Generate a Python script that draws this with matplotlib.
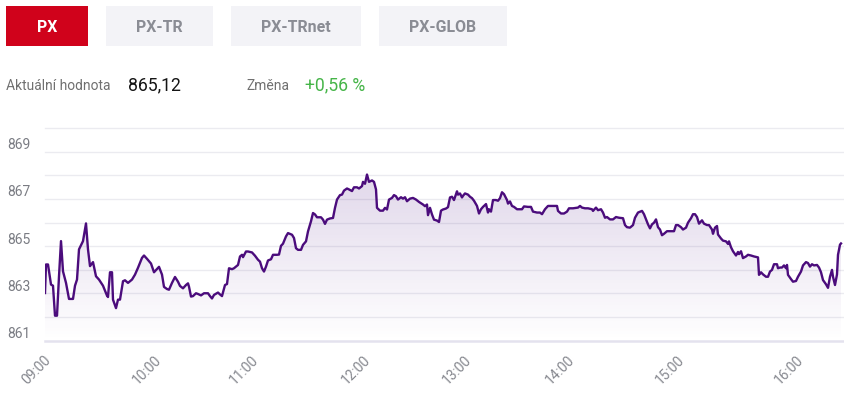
import numpy as np
import matplotlib
matplotlib.use('Agg')
import matplotlib.pyplot as plt
import matplotlib.transforms as mtransforms
from matplotlib.patches import Rectangle, Polygon

plt.rcParams['font.family'] = ['Roboto', 'DejaVu Sans']

# --- data -------------------------------------------------------------
tabs = ['PX', 'PX-TR', 'PX-TRnet', 'PX-GLOB']
active_tab = 'PX'
current_value = 865.12
change_pct = 0.56

hour_labels = ['09:00', '10:00', '11:00', '12:00', '13:00', '14:00', '15:00', '16:00']
hour_pos = [0, 110, 207, 319, 420, 523, 633, 752]
y_labels = [861, 863, 865, 867, 869]

# ordinal position of each quote on the intraday axis
quote_pos = [
    0, 1, 3, 6, 8, 10, 12, 14, 16, 18, 21, 24, 28, 30, 32, 34, 38, 41, 43, 45,
    48, 51, 54, 58, 62, 63, 65, 67, 68, 71, 73, 75, 78, 80, 83, 87, 90, 93, 97, 99,
    102, 106, 109, 112, 114, 117, 119, 122, 124, 127, 130,
    133, 135, 138, 141, 143, 144, 146, 148, 151, 153, 156, 159, 163, 165, 167, 169,
    173, 175, 177, 180, 182, 184, 187, 189, 193, 195, 197, 198, 201, 203, 207, 210,
    213, 215, 217, 219, 221, 223, 226, 228, 232, 234, 236, 238, 241, 243, 247, 249,
    251, 253, 256, 258, 261, 263, 266, 268,
    270, 272, 276, 278, 280, 282, 285, 288, 290, 292, 295, 297, 299, 302, 304, 307,
    309, 312, 314, 317, 318, 320, 322, 324, 327, 329, 331, 332, 335, 338, 340, 342,
    344, 347, 349, 351, 353, 356, 358, 360, 362, 365, 368, 371, 374, 378, 380, 382,
    383, 385, 387, 389, 392, 394, 396, 398,
    401, 403, 405, 407, 409, 412, 413, 415, 417, 418, 420, 423, 425, 427, 429, 432,
    434, 436, 438, 441, 443, 444, 446, 448, 451, 453, 455, 457, 459, 462, 463, 465,
    467, 469, 472, 474, 477, 479, 483, 486, 488, 492, 495, 497, 500, 503, 507, 512,
    513, 516, 519, 522, 524, 528, 533, 535, 537,
    540, 543, 547, 548, 551, 553, 556, 558, 560, 562, 565, 568, 571, 574, 578, 580,
    582, 585, 588, 590, 593, 597, 599, 601, 603, 605, 607, 609, 611, 613, 615, 617,
    619, 622, 625, 629, 631, 633, 636, 638, 641, 643, 646, 648, 650, 652, 654, 657,
    659, 662, 664, 667, 668, 670, 672, 673,
    676, 678, 681, 683, 684, 686, 688, 691, 693, 694, 696, 698, 701, 703, 706, 709,
    713, 714, 716, 718, 721, 723, 725, 727, 729, 732, 733, 735, 737, 739, 741, 742,
    743, 746, 748, 751, 753, 756, 758, 761, 763, 765, 767, 769, 772, 774, 776, 778,
    781, 783, 785, 787, 788, 790, 792, 793, 795, 796,
]
quote_val = [
    863.02, 864.23, 864.23, 863.38, 863.33, 862.06, 862.06, 863.73, 865.22, 863.94,
    863.45, 862.77, 862.77, 863.33, 863.59, 864.87, 865.22, 865.97, 864.87, 864.16,
    864.33, 863.73, 863.59, 863.33, 862.91, 862.85, 863.90, 863.90, 862.74, 862.38,
    862.74, 862.74, 863.52, 863.56, 863.45, 863.59, 863.80, 864.09, 864.51, 864.61,
    864.47, 864.27, 863.90, 864.04, 864.13, 863.80, 863.28, 863.19, 863.16, 863.45,
    863.70,
    863.50, 863.32, 863.22, 863.36, 863.43, 863.29, 862.87, 862.89, 863.01, 862.98,
    862.92, 863.01, 863.01, 862.89, 862.79, 862.94, 863.04, 862.96, 862.89, 863.36,
    863.40, 864.07, 864.03, 864.07, 864.21, 864.57, 864.64, 864.54, 864.78, 864.78,
    864.74, 864.60, 864.43, 864.35, 864.07, 863.93, 864.14, 864.40, 864.45, 864.64,
    864.64, 864.65, 865.02, 865.11, 865.42, 865.56, 865.49, 865.35, 864.92, 864.85,
    864.85, 865.06, 865.21, 865.63, 866.06, 866.41,
    866.35, 866.23, 866.23, 866.13, 865.95, 866.13, 866.18, 866.20, 866.63, 866.98,
    867.17, 867.19, 867.36, 867.45, 867.41, 867.34, 867.50, 867.50, 867.45, 867.55,
    867.73, 867.65, 868.04, 867.73, 867.79, 867.73, 867.41, 866.63, 866.51, 866.51,
    866.63, 866.56, 866.98, 867.05, 867.17, 867.12, 866.98, 867.08, 867.02, 867.08,
    866.91, 867.02, 867.05, 866.98, 866.88, 866.77, 866.70, 866.77, 866.32, 866.63,
    866.35, 866.13, 866.09, 866.03, 866.51, 866.56,
    866.60, 866.66, 867.07, 867.10, 866.96, 867.33, 867.19, 867.24, 867.07, 867.14,
    867.24, 867.19, 867.10, 867.04, 866.93, 866.71, 866.39, 866.57, 866.67, 866.79,
    866.43, 866.57, 866.47, 866.96, 866.96, 866.93, 867.04, 867.29, 867.21, 866.96,
    866.81, 866.90, 866.71, 866.67, 866.57, 866.57, 866.57, 866.69, 866.67, 866.67,
    866.47, 866.43, 866.43, 866.36, 866.57, 866.71, 866.71, 866.71, 866.50, 866.39,
    866.39, 866.47, 866.61, 866.61, 866.64, 866.71, 866.64,
    866.61, 866.61, 866.57, 866.50, 866.64, 866.53, 866.57, 866.43, 866.21, 866.24,
    866.14, 866.14, 866.24, 866.21, 866.19, 865.90, 865.81, 865.79, 865.90, 866.21,
    866.43, 866.50, 866.36, 866.14, 865.93, 865.76, 865.93, 866.00, 866.14, 865.81,
    865.71, 865.47, 865.53, 865.64, 865.64, 865.64, 865.90, 865.90, 865.81, 865.71,
    865.79, 866.00, 866.19, 866.36, 866.36, 866.24, 865.96, 866.10, 865.96, 865.90,
    865.90, 865.71, 865.53, 865.79, 865.86, 865.50,
    865.33, 865.24, 865.21, 865.10, 865.21, 864.96, 864.79, 864.61, 864.76, 864.67,
    864.79, 864.50, 864.57, 864.64, 864.61, 864.57, 864.53, 863.79, 863.90, 863.81,
    863.71, 863.71, 863.93, 864.00, 864.24, 864.24, 864.07, 864.10, 864.10, 864.19,
    864.07, 864.21, 863.79, 863.61, 863.50, 863.53, 863.71, 863.93, 864.19, 864.33,
    864.29, 864.14, 864.24, 864.19, 864.21, 864.10, 863.90, 863.57, 863.39, 863.24,
    863.71, 864.00, 863.71, 863.36, 863.81, 864.64, 865.07, 865.12,
]

# --- figure -----------------------------------------------------------
W, H = 844, 399
fig = plt.figure(figsize=(W / 100, H / 100), dpi=100)
fig.patch.set_facecolor('white')

line_color = '#4b0c7c'
grid_color = '#ebebf0'
label_gray = '#7a7c83'
y_min, y_max = 861, 870

# plot area in pixels: x 45..844, y 128.3..340.7
ax = fig.add_axes([45 / W, (H - 340.7) / H, (W - 45) / W, (340.7 - 128.3) / H])
ax.set_xlim(0, W - 45)
ax.set_ylim(y_min, y_max)
ax.axis('off')

for v in range(y_min + 1, y_max + 1):
    ax.axhline(v, color=grid_color, lw=1.0, zorder=0, clip_on=False)
ax.axhline(y_min, color='#e4e2ee', lw=1.8, zorder=0, clip_on=False)

# gradient area under the line
verts = list(zip(quote_pos, quote_val)) + [(quote_pos[-1], y_min), (quote_pos[0], y_min)]
area = Polygon(verts, closed=True, facecolor='none', edgecolor='none')
ax.add_patch(area)
grad = np.linspace(1, 0, 256)
rgba = np.zeros((256, 1, 4))
rgba[..., 0], rgba[..., 1], rgba[..., 2] = 0.42, 0.24, 0.60
rgba[:, 0, 3] = 0.26 * grad
im = ax.imshow(rgba, extent=[0, W - 45, y_min, y_max], aspect='auto',
               origin='upper', zorder=1, interpolation='bilinear')
im.set_clip_path(area)

ax.plot(quote_pos, quote_val, color=line_color, lw=1.7, zorder=3,
        solid_joinstyle='round')

# y labels sit a little above their grid line, left aligned
ytrans = mtransforms.offset_copy(ax.get_yaxis_transform(), fig=fig, x=0, y=2.6, units='dots')
for v in y_labels:
    ax.text(-38 / (W - 45), v, str(v), transform=ytrans, ha='left', va='baseline',
            fontsize=10, color=label_gray)

# rotated hour labels
xtrans = mtransforms.offset_copy(ax.get_xaxis_transform(), fig=fig, x=4, y=-17, units='dots')
for p, lab in zip(hour_pos, hour_labels):
    ax.text(p, 0, lab, transform=xtrans, rotation=45, rotation_mode='anchor',
            ha='right', va='center', fontsize=10, color='#85878e')

# --- header (tabs + current value) -------------------------------------
hdr = fig.add_axes([0, 0, 1, 1], zorder=-1)
hdr.set_xlim(0, W)
hdr.set_ylim(H, 0)
hdr.axis('off')

tab_spans = [(6, 88), (106, 212.7), (231, 361), (379, 506.7)]
for name, (x0, x1) in zip(tabs, tab_spans):
    active = name == active_tab
    hdr.add_patch(Rectangle((x0, 6), x1 - x0, 39.7,
                            facecolor='#d0021b' if active else '#f3f3f7', edgecolor='none'))
    hdr.text((x0 + x1) / 2, 32.5, name, ha='center', va='baseline', fontsize=11.4,
             fontweight='bold', color='white' if active else '#8a8c94')

hdr.text(6, 90.5, 'Aktuální hodnota', ha='left', va='baseline', fontsize=10, color='#707070')
hdr.text(128, 90.5, f'{current_value:.2f}'.replace('.', ','), ha='left', va='baseline',
         fontsize=12.7, color='#151515')
hdr.text(246, 90.5, 'Změna', ha='left', va='baseline', fontsize=10, color='#707070')
hdr.text(305, 90.5, f'+{change_pct:.2f} %'.replace('.', ','), ha='left', va='baseline',
         fontsize=12.7, color='#46b549')

fig.savefig('out.png', dpi=100, facecolor='white')
